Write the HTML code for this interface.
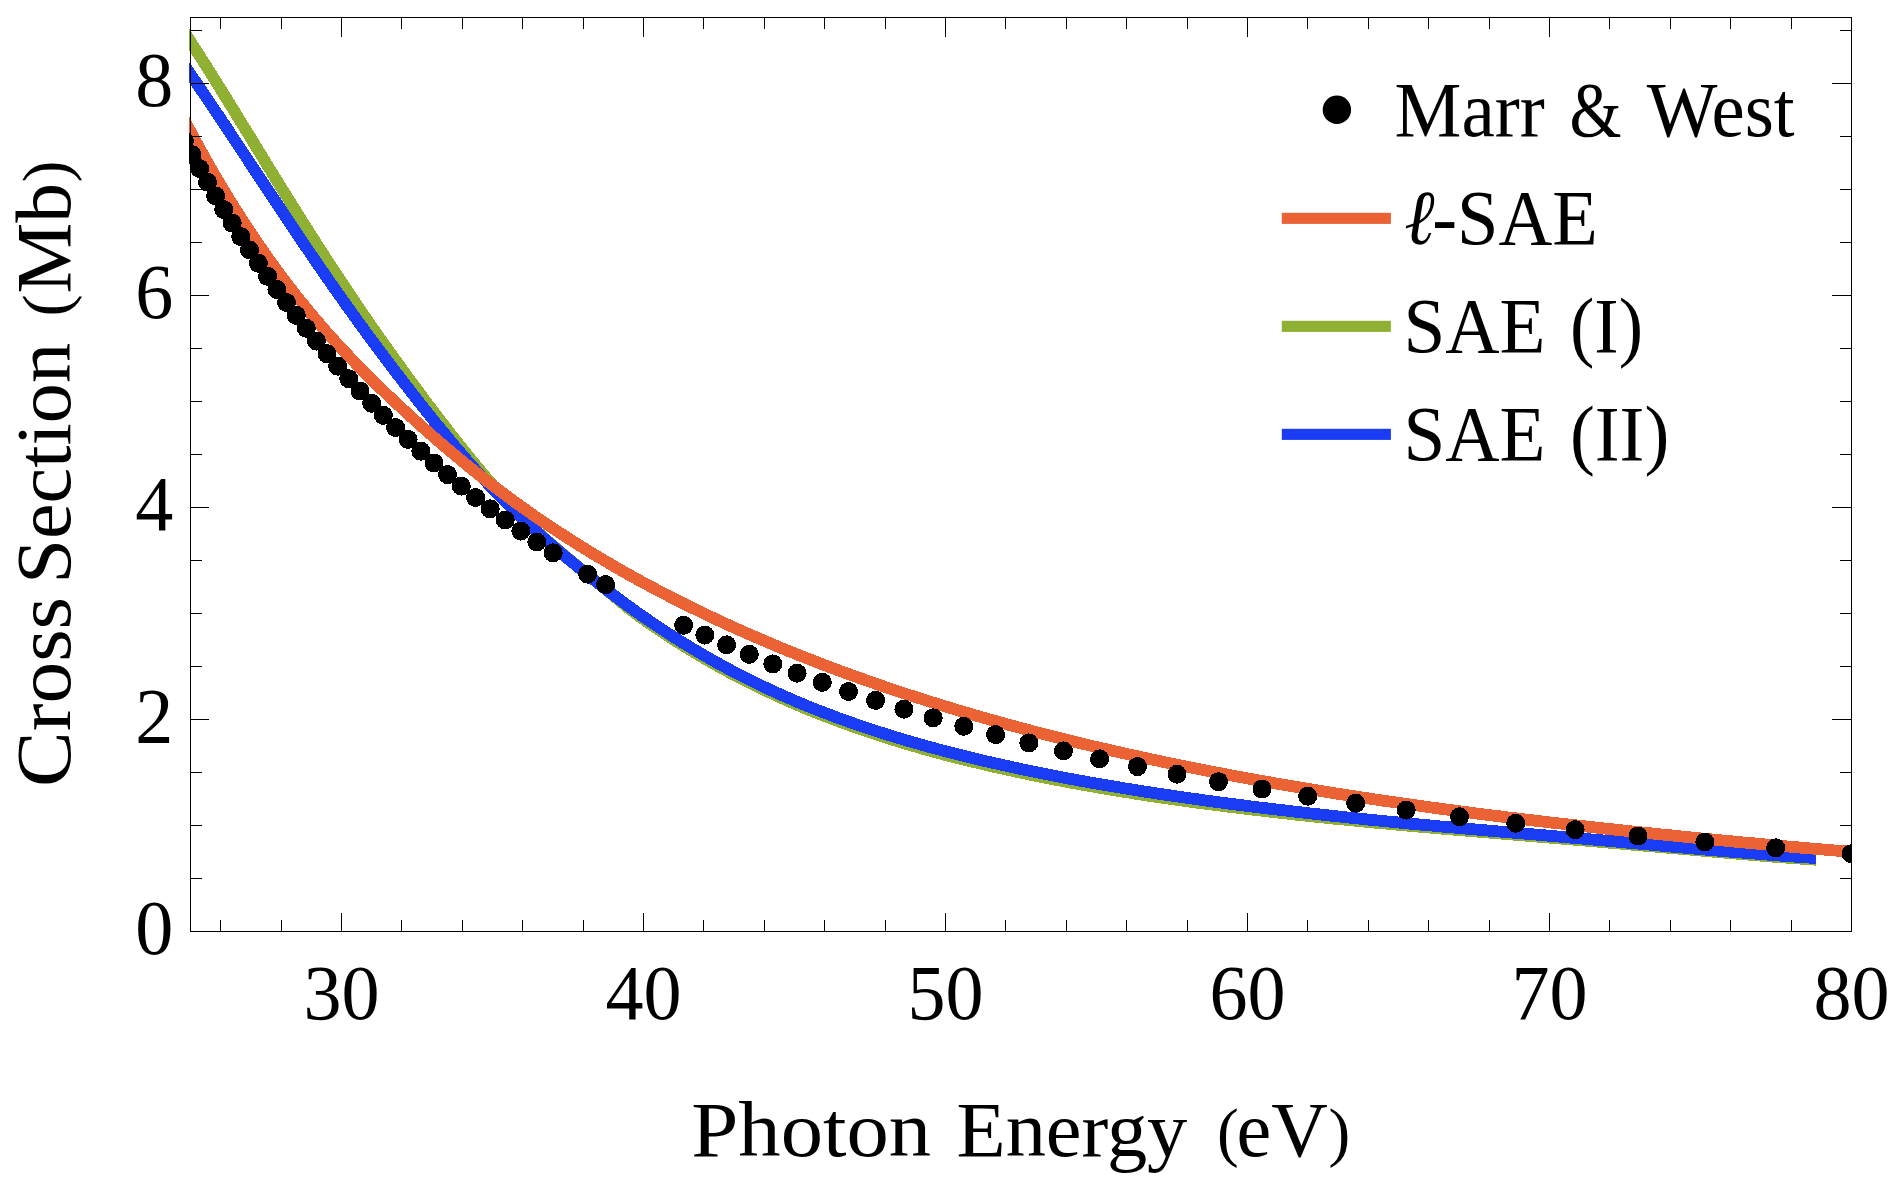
<!DOCTYPE html>
<html><head><meta charset="utf-8"><title>Cross Section</title>
<style>
html,body{margin:0;padding:0;background:#fff;}
svg{display:block;}
text{font-family:"Liberation Serif",serif;fill:#000;}
</style></head><body>
<svg width="1893" height="1181" viewBox="0 0 1893 1181">
<rect width="1893" height="1181" fill="#fff"/>
<defs><clipPath id="c"><rect x="189" y="17" width="1663" height="915"/></clipPath></defs>
<g clip-path="url(#c)" fill="none" stroke-width="11.8" stroke-linejoin="round" shape-rendering="crispEdges">
<path d="M181.4,27.5 L185.5,33.8 L189.6,40.1 L193.7,46.5 L197.8,52.9 L201.9,59.3 L206.0,65.8 L210.1,72.3 L214.2,78.8 L218.3,85.4 L222.4,92.0 L226.5,98.6 L230.6,105.2 L234.7,111.9 L238.8,118.6 L242.9,125.3 L247.0,131.9 L251.1,138.6 L255.2,145.3 L259.3,152.0 L263.4,158.7 L267.5,165.4 L271.6,172.1 L275.7,178.7 L279.8,185.3 L283.9,191.9 L288.0,198.5 L292.1,205.0 L296.1,211.6 L300.2,218.1 L304.3,224.6 L308.4,231.0 L312.5,237.4 L316.6,243.8 L320.7,250.2 L324.8,256.6 L328.9,262.9 L333.0,269.1 L337.1,275.4 L341.2,281.6 L345.3,287.7 L349.4,293.9 L353.5,300.0 L357.6,306.0 L361.7,312.0 L365.8,318.0 L369.9,323.9 L374.0,329.8 L378.1,335.7 L382.2,341.5 L386.3,347.3 L390.4,353.0 L394.5,358.7 L398.6,364.4 L402.7,370.0 L406.8,375.7 L410.9,381.2 L415.0,386.8 L419.0,392.3 L423.1,397.8 L427.2,403.3 L431.3,408.7 L435.4,414.1 L439.5,419.5 L443.6,424.8 L447.7,430.1 L451.8,435.4 L455.9,440.6 L460.0,445.7 L464.1,450.8 L468.2,455.9 L472.3,460.9 L476.4,465.9 L480.5,470.8 L484.6,475.7 L488.7,480.5 L492.8,485.2 L496.9,490.0 L501.0,494.7 L505.1,499.3 L509.2,503.8 L513.3,508.2 L517.4,512.5 L521.5,516.7 L525.6,520.7 L529.7,524.7 L533.8,528.6 L537.9,532.3 L541.9,536.0 L546.0,539.6 L550.1,543.1 L554.2,546.7 L558.3,550.2 L562.4,553.6 L566.5,557.1 L570.6,560.5 L574.7,563.9 L578.8,567.3 L582.9,570.7 L587.0,574.1 L591.1,577.4 L595.2,580.7 L599.3,584.1 L603.4,587.4 L607.5,590.8 L611.6,594.2 L615.7,597.6 L619.8,601.0 L623.9,604.4 L628.0,607.8 L632.1,611.0 L636.2,614.1 L640.3,617.1 L644.4,620.0 L648.5,622.9 L652.6,625.7 L656.7,628.5 L660.8,631.2 L664.8,633.9 L668.9,636.6 L673.0,639.3 L677.1,641.9 L681.2,644.5 L685.3,647.0 L689.4,649.5 L693.5,652.0 L697.6,654.4 L701.7,656.9 L705.8,659.3 L709.9,661.6 L714.0,663.9 L718.1,666.2 L722.2,668.5 L726.3,670.7 L730.4,672.9 L734.5,675.1 L738.6,677.2 L742.7,679.3 L746.8,681.4 L750.9,683.5 L755.0,685.5 L759.1,687.5 L763.2,689.5 L767.3,691.4 L771.4,693.3 L775.5,695.2 L779.6,697.1 L783.7,698.9 L787.7,700.8 L791.8,702.6 L795.9,704.3 L800.0,706.1 L804.1,707.8 L808.2,709.5 L812.3,711.1 L816.4,712.8 L820.5,714.4 L824.6,716.0 L828.7,717.6 L832.8,719.2 L836.9,720.7 L841.0,722.2 L845.1,723.7 L849.2,725.2 L853.3,726.7 L857.4,728.1 L861.5,729.5 L865.6,730.9 L869.7,732.3 L873.8,733.7 L877.9,735.0 L882.0,736.4 L886.1,737.7 L890.2,739.0 L894.3,740.3 L898.4,741.5 L902.5,742.8 L906.6,744.0 L910.6,745.2 L914.7,746.4 L918.8,747.6 L922.9,748.8 L927.0,749.9 L931.1,751.1 L935.2,752.2 L939.3,753.3 L943.4,754.4 L947.5,755.5 L951.6,756.5 L955.7,757.6 L959.8,758.6 L963.9,759.6 L968.0,760.6 L972.1,761.6 L976.2,762.6 L980.3,763.6 L984.4,764.6 L988.5,765.5 L992.6,766.5 L996.7,767.4 L1000.8,768.3 L1004.9,769.2 L1009.0,770.1 L1013.1,771.0 L1017.2,771.9 L1021.3,772.8 L1025.4,773.6 L1029.5,774.5 L1033.5,775.3 L1037.6,776.2 L1041.7,777.0 L1045.8,777.8 L1049.9,778.6 L1054.0,779.4 L1058.1,780.2 L1062.2,781.0 L1066.3,781.7 L1070.4,782.5 L1074.5,783.3 L1078.6,784.0 L1082.7,784.8 L1086.8,785.5 L1090.9,786.2 L1095.0,786.9 L1099.1,787.7 L1103.2,788.4 L1107.3,789.1 L1111.4,789.8 L1115.5,790.4 L1119.6,791.1 L1123.7,791.8 L1127.8,792.4 L1131.9,793.1 L1136.0,793.8 L1140.1,794.4 L1144.2,795.0 L1148.3,795.7 L1152.4,796.3 L1156.4,796.9 L1160.5,797.5 L1164.6,798.1 L1168.7,798.7 L1172.8,799.3 L1176.9,799.8 L1181.0,800.4 L1185.1,801.0 L1189.2,801.6 L1193.3,802.1 L1197.4,802.7 L1201.5,803.2 L1205.6,803.7 L1209.7,804.3 L1213.8,804.8 L1217.9,805.3 L1222.0,805.9 L1226.1,806.4 L1230.2,806.9 L1234.3,807.4 L1238.4,807.9 L1242.5,808.4 L1246.6,808.9 L1250.7,809.4 L1254.8,809.9 L1258.9,810.4 L1263.0,810.8 L1267.1,811.3 L1271.2,811.8 L1275.3,812.3 L1279.4,812.7 L1283.4,813.2 L1287.5,813.6 L1291.6,814.1 L1295.7,814.6 L1299.8,815.0 L1303.9,815.4 L1308.0,815.9 L1312.1,816.3 L1316.2,816.8 L1320.3,817.2 L1324.4,817.6 L1328.5,818.0 L1332.6,818.5 L1336.7,818.9 L1340.8,819.3 L1344.9,819.7 L1349.0,820.1 L1353.1,820.5 L1357.2,820.9 L1361.3,821.3 L1365.4,821.7 L1369.5,822.1 L1373.6,822.5 L1377.7,822.9 L1381.8,823.3 L1385.9,823.6 L1390.0,824.0 L1394.1,824.4 L1398.2,824.8 L1402.3,825.1 L1406.3,825.5 L1410.4,825.9 L1414.5,826.2 L1418.6,826.6 L1422.7,827.0 L1426.8,827.3 L1430.9,827.7 L1435.0,828.1 L1439.1,828.4 L1443.2,828.8 L1447.3,829.1 L1451.4,829.5 L1455.5,829.8 L1459.6,830.2 L1463.7,830.5 L1467.8,830.8 L1471.9,831.2 L1476.0,831.5 L1480.1,831.9 L1484.2,832.2 L1488.3,832.5 L1492.4,832.9 L1496.5,833.2 L1500.6,833.6 L1504.7,833.9 L1508.8,834.2 L1512.9,834.6 L1517.0,834.9 L1521.1,835.3 L1525.2,835.6 L1529.2,835.9 L1533.3,836.3 L1537.4,836.6 L1541.5,836.9 L1545.6,837.3 L1549.7,837.6 L1553.8,838.0 L1557.9,838.3 L1562.0,838.7 L1566.1,839.0 L1570.2,839.3 L1574.3,839.7 L1578.4,840.0 L1582.5,840.4 L1586.6,840.7 L1590.7,841.1 L1594.8,841.4 L1598.9,841.8 L1603.0,842.1 L1607.1,842.5 L1611.2,842.8 L1615.3,843.2 L1619.4,843.5 L1623.5,843.9 L1627.6,844.3 L1631.7,844.6 L1635.8,845.0 L1639.9,845.3 L1644.0,845.7 L1648.1,846.0 L1652.1,846.4 L1656.2,846.7 L1660.3,847.1 L1664.4,847.4 L1668.5,847.8 L1672.6,848.1 L1676.7,848.5 L1680.8,848.8 L1684.9,849.2 L1689.0,849.5 L1693.1,849.9 L1697.2,850.3 L1701.3,850.6 L1705.4,851.0 L1709.5,851.3 L1713.6,851.7 L1717.7,852.0 L1721.8,852.4 L1725.9,852.7 L1730.0,853.1 L1734.1,853.4 L1738.2,853.8 L1742.3,854.1 L1746.4,854.5 L1750.5,854.8 L1754.6,855.1 L1758.7,855.5 L1762.8,855.8 L1766.9,856.1 L1771.0,856.5 L1775.0,856.8 L1779.1,857.1 L1783.2,857.4 L1787.3,857.7 L1791.4,858.0 L1795.5,858.3 L1799.6,858.6 L1803.7,858.9 L1807.8,859.2 L1811.9,859.5 L1816.0,859.7" stroke="#8fb032"/>
<path d="M181.4,61.2 L185.5,67.1 L189.6,73.0 L193.7,79.0 L197.8,84.9 L201.9,91.0 L206.0,97.0 L210.1,103.1 L214.2,109.2 L218.3,115.3 L222.4,121.5 L226.5,127.6 L230.6,133.8 L234.7,140.0 L238.8,146.2 L242.9,152.4 L247.0,158.6 L251.1,164.8 L255.2,171.0 L259.3,177.2 L263.4,183.4 L267.5,189.5 L271.6,195.7 L275.7,201.9 L279.8,208.0 L283.9,214.2 L288.0,220.3 L292.1,226.4 L296.1,232.5 L300.2,238.6 L304.3,244.6 L308.4,250.6 L312.5,256.6 L316.6,262.6 L320.7,268.6 L324.8,274.5 L328.9,280.4 L333.0,286.2 L337.1,292.1 L341.2,297.9 L345.3,303.7 L349.4,309.4 L353.5,315.1 L357.6,320.8 L361.7,326.5 L365.8,332.1 L369.9,337.6 L374.0,343.2 L378.1,348.7 L382.2,354.2 L386.3,359.6 L390.4,365.0 L394.5,370.4 L398.6,375.8 L402.7,381.1 L406.8,386.4 L410.9,391.6 L415.0,396.9 L419.0,402.1 L423.1,407.2 L427.2,412.4 L431.3,417.5 L435.4,422.6 L439.5,427.6 L443.6,432.6 L447.7,437.6 L451.8,442.5 L455.9,447.4 L460.0,452.2 L464.1,457.0 L468.2,461.7 L472.3,466.4 L476.4,471.0 L480.5,475.6 L484.6,480.1 L488.7,484.5 L492.8,488.9 L496.9,493.3 L501.0,497.5 L505.1,501.7 L509.2,505.8 L513.3,509.9 L517.4,513.9 L521.5,517.8 L525.6,521.6 L529.7,525.4 L533.8,529.2 L537.9,532.8 L541.9,536.5 L546.0,540.1 L550.1,543.6 L554.2,547.1 L558.3,550.6 L562.4,554.1 L566.5,557.5 L570.6,560.9 L574.7,564.3 L578.8,567.7 L582.9,571.0 L587.0,574.3 L591.1,577.6 L595.2,580.9 L599.3,584.1 L603.4,587.3 L607.5,590.5 L611.6,593.6 L615.7,596.7 L619.8,599.8 L623.9,602.8 L628.0,605.8 L632.1,608.7 L636.2,611.7 L640.3,614.6 L644.4,617.4 L648.5,620.3 L652.6,623.0 L656.7,625.8 L660.8,628.5 L664.8,631.2 L668.9,633.9 L673.0,636.5 L677.1,639.1 L681.2,641.7 L685.3,644.2 L689.4,646.7 L693.5,649.2 L697.6,651.6 L701.7,654.0 L705.8,656.4 L709.9,658.7 L714.0,661.1 L718.1,663.3 L722.2,665.6 L726.3,667.8 L730.4,670.0 L734.5,672.2 L738.6,674.3 L742.7,676.4 L746.8,678.5 L750.9,680.5 L755.0,682.5 L759.1,684.5 L763.2,686.5 L767.3,688.4 L771.4,690.4 L775.5,692.2 L779.6,694.1 L783.7,695.9 L787.7,697.7 L791.8,699.5 L795.9,701.3 L800.0,703.0 L804.1,704.7 L808.2,706.4 L812.3,708.0 L816.4,709.7 L820.5,711.3 L824.6,712.8 L828.7,714.4 L832.8,715.9 L836.9,717.5 L841.0,719.0 L845.1,720.4 L849.2,721.9 L853.3,723.3 L857.4,724.8 L861.5,726.2 L865.6,727.5 L869.7,728.9 L873.8,730.3 L877.9,731.6 L882.0,732.9 L886.1,734.2 L890.2,735.5 L894.3,736.7 L898.4,738.0 L902.5,739.2 L906.6,740.4 L910.6,741.6 L914.7,742.8 L918.8,744.0 L922.9,745.1 L927.0,746.3 L931.1,747.4 L935.2,748.5 L939.3,749.6 L943.4,750.7 L947.5,751.7 L951.6,752.8 L955.7,753.9 L959.8,754.9 L963.9,755.9 L968.0,756.9 L972.1,757.9 L976.2,758.9 L980.3,759.9 L984.4,760.9 L988.5,761.8 L992.6,762.8 L996.7,763.7 L1000.8,764.6 L1004.9,765.5 L1009.0,766.4 L1013.1,767.3 L1017.2,768.2 L1021.3,769.1 L1025.4,769.9 L1029.5,770.8 L1033.5,771.6 L1037.6,772.5 L1041.7,773.3 L1045.8,774.1 L1049.9,774.9 L1054.0,775.7 L1058.1,776.5 L1062.2,777.3 L1066.3,778.1 L1070.4,778.9 L1074.5,779.6 L1078.6,780.4 L1082.7,781.1 L1086.8,781.9 L1090.9,782.6 L1095.0,783.3 L1099.1,784.0 L1103.2,784.7 L1107.3,785.4 L1111.4,786.1 L1115.5,786.8 L1119.6,787.5 L1123.7,788.2 L1127.8,788.9 L1131.9,789.5 L1136.0,790.2 L1140.1,790.8 L1144.2,791.5 L1148.3,792.1 L1152.4,792.7 L1156.4,793.4 L1160.5,794.0 L1164.6,794.6 L1168.7,795.2 L1172.8,795.8 L1176.9,796.4 L1181.0,797.0 L1185.1,797.6 L1189.2,798.2 L1193.3,798.8 L1197.4,799.3 L1201.5,799.9 L1205.6,800.5 L1209.7,801.0 L1213.8,801.6 L1217.9,802.1 L1222.0,802.7 L1226.1,803.2 L1230.2,803.8 L1234.3,804.3 L1238.4,804.8 L1242.5,805.3 L1246.6,805.9 L1250.7,806.4 L1254.8,806.9 L1258.9,807.4 L1263.0,807.9 L1267.1,808.4 L1271.2,808.9 L1275.3,809.4 L1279.4,809.9 L1283.4,810.3 L1287.5,810.8 L1291.6,811.3 L1295.7,811.8 L1299.8,812.2 L1303.9,812.7 L1308.0,813.2 L1312.1,813.6 L1316.2,814.1 L1320.3,814.5 L1324.4,815.0 L1328.5,815.4 L1332.6,815.8 L1336.7,816.3 L1340.8,816.7 L1344.9,817.2 L1349.0,817.6 L1353.1,818.0 L1357.2,818.4 L1361.3,818.8 L1365.4,819.3 L1369.5,819.7 L1373.6,820.1 L1377.7,820.5 L1381.8,820.9 L1385.9,821.3 L1390.0,821.7 L1394.1,822.1 L1398.2,822.5 L1402.3,822.9 L1406.3,823.3 L1410.4,823.7 L1414.5,824.0 L1418.6,824.4 L1422.7,824.8 L1426.8,825.2 L1430.9,825.5 L1435.0,825.9 L1439.1,826.3 L1443.2,826.7 L1447.3,827.0 L1451.4,827.4 L1455.5,827.7 L1459.6,828.1 L1463.7,828.5 L1467.8,828.8 L1471.9,829.2 L1476.0,829.5 L1480.1,829.9 L1484.2,830.2 L1488.3,830.6 L1492.4,830.9 L1496.5,831.3 L1500.6,831.6 L1504.7,832.0 L1508.8,832.3 L1512.9,832.7 L1517.0,833.0 L1521.1,833.4 L1525.2,833.7 L1529.2,834.1 L1533.3,834.4 L1537.4,834.7 L1541.5,835.1 L1545.6,835.4 L1549.7,835.8 L1553.8,836.2 L1557.9,836.5 L1562.0,836.9 L1566.1,837.2 L1570.2,837.6 L1574.3,837.9 L1578.4,838.3 L1582.5,838.6 L1586.6,839.0 L1590.7,839.4 L1594.8,839.7 L1598.9,840.1 L1603.0,840.4 L1607.1,840.8 L1611.2,841.2 L1615.3,841.5 L1619.4,841.9 L1623.5,842.3 L1627.6,842.7 L1631.7,843.0 L1635.8,843.4 L1639.9,843.8 L1644.0,844.1 L1648.1,844.5 L1652.1,844.9 L1656.2,845.2 L1660.3,845.6 L1664.4,846.0 L1668.5,846.4 L1672.6,846.7 L1676.7,847.1 L1680.8,847.4 L1684.9,847.8 L1689.0,848.2 L1693.1,848.5 L1697.2,848.9 L1701.3,849.2 L1705.4,849.6 L1709.5,849.9 L1713.6,850.3 L1717.7,850.6 L1721.8,851.0 L1725.9,851.3 L1730.0,851.7 L1734.1,852.0 L1738.2,852.3 L1742.3,852.6 L1746.4,853.0 L1750.5,853.3 L1754.6,853.6 L1758.7,853.9 L1762.8,854.3 L1766.9,854.6 L1771.0,854.9 L1775.0,855.2 L1779.1,855.5 L1783.2,855.8 L1787.3,856.1 L1791.4,856.4 L1795.5,856.7 L1799.6,856.9 L1803.7,857.2 L1807.8,857.5 L1811.9,857.8 L1816.0,858.0" stroke="#1a3cf5"/>
<path d="M181.4,114.5 L185.6,122.5 L189.9,130.5 L194.1,138.3 L198.3,146.0 L202.5,153.6 L206.7,161.1 L210.9,168.4 L215.1,175.7 L219.3,182.8 L223.5,189.9 L227.7,196.8 L231.9,203.6 L236.1,210.3 L240.4,217.0 L244.6,223.5 L248.8,229.9 L253.0,236.2 L257.2,242.4 L261.4,248.5 L265.6,254.5 L269.8,260.5 L274.0,266.3 L278.2,272.0 L282.4,277.7 L286.6,283.3 L290.9,288.8 L295.1,294.2 L299.3,299.5 L303.5,304.7 L307.7,309.8 L311.9,314.9 L316.1,319.9 L320.3,324.8 L324.5,329.6 L328.7,334.4 L332.9,339.1 L337.1,343.7 L341.4,348.3 L345.6,352.8 L349.8,357.2 L354.0,361.6 L358.2,366.0 L362.4,370.3 L366.6,374.5 L370.8,378.7 L375.0,382.8 L379.2,387.0 L383.4,391.0 L387.6,395.1 L391.9,399.0 L396.1,403.0 L400.3,406.9 L404.5,410.8 L408.7,414.7 L412.9,418.5 L417.1,422.3 L421.3,426.1 L425.5,429.8 L429.7,433.5 L433.9,437.2 L438.1,440.9 L442.4,444.5 L446.6,448.1 L450.8,451.7 L455.0,455.2 L459.2,458.7 L463.4,462.2 L467.6,465.6 L471.8,469.0 L476.0,472.4 L480.2,475.7 L484.4,479.0 L488.6,482.3 L492.9,485.5 L497.1,488.7 L501.3,491.9 L505.5,495.0 L509.7,498.1 L513.9,501.2 L518.1,504.3 L522.3,507.3 L526.5,510.3 L530.7,513.2 L534.9,516.2 L539.1,519.0 L543.4,521.9 L547.6,524.8 L551.8,527.6 L556.0,530.4 L560.2,533.1 L564.4,535.8 L568.6,538.5 L572.8,541.2 L577.0,543.9 L581.2,546.5 L585.4,549.1 L589.6,551.7 L593.9,554.3 L598.1,556.8 L602.3,559.3 L606.5,561.8 L610.7,564.2 L614.9,566.7 L619.1,569.1 L623.3,571.5 L627.5,573.9 L631.7,576.2 L635.9,578.6 L640.1,580.9 L644.4,583.2 L648.6,585.4 L652.8,587.7 L657.0,589.9 L661.2,592.1 L665.4,594.3 L669.6,596.5 L673.8,598.6 L678.0,600.8 L682.2,602.9 L686.4,605.0 L690.6,607.1 L694.9,609.1 L699.1,611.2 L703.3,613.2 L707.5,615.2 L711.7,617.2 L715.9,619.2 L720.1,621.2 L724.3,623.1 L728.5,625.0 L732.7,627.0 L736.9,628.8 L741.1,630.7 L745.4,632.6 L749.6,634.5 L753.8,636.3 L758.0,638.1 L762.2,639.9 L766.4,641.7 L770.6,643.5 L774.8,645.3 L779.0,647.0 L783.2,648.8 L787.4,650.5 L791.6,652.2 L795.9,653.9 L800.1,655.6 L804.3,657.2 L808.5,658.9 L812.7,660.5 L816.9,662.2 L821.1,663.8 L825.3,665.4 L829.5,667.0 L833.7,668.6 L837.9,670.1 L842.1,671.7 L846.4,673.3 L850.6,674.8 L854.8,676.3 L859.0,677.8 L863.2,679.3 L867.4,680.8 L871.6,682.3 L875.8,683.7 L880.0,685.2 L884.2,686.6 L888.4,688.1 L892.6,689.5 L896.9,690.9 L901.1,692.3 L905.3,693.7 L909.5,695.1 L913.7,696.4 L917.9,697.8 L922.1,699.1 L926.3,700.5 L930.5,701.8 L934.7,703.1 L938.9,704.4 L943.1,705.7 L947.4,707.0 L951.6,708.3 L955.8,709.6 L960.0,710.8 L964.2,712.1 L968.4,713.3 L972.6,714.5 L976.8,715.8 L981.0,717.0 L985.2,718.2 L989.4,719.4 L993.6,720.6 L997.9,721.7 L1002.1,722.9 L1006.3,724.1 L1010.5,725.2 L1014.7,726.4 L1018.9,727.5 L1023.1,728.6 L1027.3,729.7 L1031.5,730.9 L1035.7,732.0 L1039.9,733.1 L1044.1,734.1 L1048.4,735.2 L1052.6,736.3 L1056.8,737.4 L1061.0,738.4 L1065.2,739.5 L1069.4,740.5 L1073.6,741.5 L1077.8,742.6 L1082.0,743.6 L1086.2,744.6 L1090.4,745.6 L1094.6,746.6 L1098.9,747.6 L1103.1,748.5 L1107.3,749.5 L1111.5,750.5 L1115.7,751.4 L1119.9,752.4 L1124.1,753.3 L1128.3,754.3 L1132.5,755.2 L1136.7,756.1 L1140.9,757.1 L1145.1,758.0 L1149.4,758.9 L1153.6,759.8 L1157.8,760.7 L1162.0,761.6 L1166.2,762.5 L1170.4,763.3 L1174.6,764.2 L1178.8,765.1 L1183.0,765.9 L1187.2,766.8 L1191.4,767.6 L1195.6,768.5 L1199.9,769.3 L1204.1,770.1 L1208.3,770.9 L1212.5,771.8 L1216.7,772.6 L1220.9,773.4 L1225.1,774.2 L1229.3,775.0 L1233.5,775.8 L1237.7,776.6 L1241.9,777.3 L1246.1,778.1 L1250.4,778.9 L1254.6,779.6 L1258.8,780.4 L1263.0,781.1 L1267.2,781.9 L1271.4,782.6 L1275.6,783.4 L1279.8,784.1 L1284.0,784.8 L1288.2,785.6 L1292.4,786.3 L1296.6,787.0 L1300.9,787.7 L1305.1,788.4 L1309.3,789.1 L1313.5,789.8 L1317.7,790.5 L1321.9,791.2 L1326.1,791.8 L1330.3,792.5 L1334.5,793.2 L1338.7,793.9 L1342.9,794.5 L1347.1,795.2 L1351.4,795.8 L1355.6,796.5 L1359.8,797.1 L1364.0,797.8 L1368.2,798.4 L1372.4,799.0 L1376.6,799.7 L1380.8,800.3 L1385.0,800.9 L1389.2,801.5 L1393.4,802.1 L1397.6,802.7 L1401.9,803.3 L1406.1,804.0 L1410.3,804.5 L1414.5,805.1 L1418.7,805.7 L1422.9,806.3 L1427.1,806.9 L1431.3,807.5 L1435.5,808.0 L1439.7,808.6 L1443.9,809.2 L1448.1,809.7 L1452.4,810.3 L1456.6,810.9 L1460.8,811.4 L1465.0,812.0 L1469.2,812.5 L1473.4,813.1 L1477.6,813.6 L1481.8,814.1 L1486.0,814.7 L1490.2,815.2 L1494.4,815.7 L1498.6,816.2 L1502.9,816.8 L1507.1,817.3 L1511.3,817.8 L1515.5,818.3 L1519.7,818.8 L1523.9,819.3 L1528.1,819.8 L1532.3,820.3 L1536.5,820.8 L1540.7,821.3 L1544.9,821.8 L1549.1,822.3 L1553.4,822.8 L1557.6,823.3 L1561.8,823.7 L1566.0,824.2 L1570.2,824.7 L1574.4,825.2 L1578.6,825.6 L1582.8,826.1 L1587.0,826.6 L1591.2,827.0 L1595.4,827.5 L1599.6,828.0 L1603.9,828.4 L1608.1,828.9 L1612.3,829.3 L1616.5,829.8 L1620.7,830.2 L1624.9,830.7 L1629.1,831.1 L1633.3,831.6 L1637.5,832.0 L1641.7,832.4 L1645.9,832.9 L1650.1,833.3 L1654.4,833.7 L1658.6,834.2 L1662.8,834.6 L1667.0,835.0 L1671.2,835.4 L1675.4,835.9 L1679.6,836.3 L1683.8,836.7 L1688.0,837.1 L1692.2,837.5 L1696.4,837.9 L1700.6,838.4 L1704.9,838.8 L1709.1,839.2 L1713.3,839.6 L1717.5,840.0 L1721.7,840.4 L1725.9,840.8 L1730.1,841.2 L1734.3,841.6 L1738.5,842.0 L1742.7,842.4 L1746.9,842.8 L1751.1,843.1 L1755.4,843.5 L1759.6,843.9 L1763.8,844.3 L1768.0,844.7 L1772.2,845.1 L1776.4,845.4 L1780.6,845.8 L1784.8,846.2 L1789.0,846.6 L1793.2,846.9 L1797.4,847.3 L1801.6,847.7 L1805.9,848.0 L1810.1,848.4 L1814.3,848.7 L1818.5,849.1 L1822.7,849.5 L1826.9,849.8 L1831.1,850.2 L1835.3,850.5 L1839.5,850.9 L1843.7,851.2 L1847.9,851.5 L1852.1,851.9 L1856.4,852.2 L1860.6,852.6" stroke="#eb6235"/>
<g fill="#000" stroke="none">
<circle cx="1851.2" cy="853.7" r="9.5"/>
<circle cx="1775.7" cy="847.9" r="9.5"/>
<circle cx="1704.8" cy="842.0" r="9.5"/>
<circle cx="1638.0" cy="836.0" r="9.5"/>
<circle cx="1575.1" cy="829.7" r="9.5"/>
<circle cx="1515.7" cy="823.3" r="9.5"/>
<circle cx="1459.5" cy="816.8" r="9.5"/>
<circle cx="1406.2" cy="810.1" r="9.5"/>
<circle cx="1355.7" cy="803.2" r="9.5"/>
<circle cx="1307.7" cy="796.2" r="9.5"/>
<circle cx="1262.0" cy="789.0" r="9.5"/>
<circle cx="1218.5" cy="781.7" r="9.5"/>
<circle cx="1177.0" cy="774.2" r="9.5"/>
<circle cx="1137.5" cy="766.6" r="9.5"/>
<circle cx="1099.6" cy="758.8" r="9.5"/>
<circle cx="1063.5" cy="750.9" r="9.5"/>
<circle cx="1028.8" cy="742.9" r="9.5"/>
<circle cx="995.6" cy="734.6" r="9.5"/>
<circle cx="963.8" cy="726.3" r="9.5"/>
<circle cx="933.2" cy="717.8" r="9.5"/>
<circle cx="903.9" cy="709.2" r="9.5"/>
<circle cx="875.6" cy="700.4" r="9.5"/>
<circle cx="848.5" cy="691.5" r="9.5"/>
<circle cx="822.3" cy="682.4" r="9.5"/>
<circle cx="797.1" cy="673.2" r="9.5"/>
<circle cx="772.8" cy="663.9" r="9.5"/>
<circle cx="749.3" cy="654.4" r="9.5"/>
<circle cx="726.6" cy="644.8" r="9.5"/>
<circle cx="704.8" cy="635.1" r="9.5"/>
<circle cx="683.6" cy="625.3" r="9.5"/>
<circle cx="605.6" cy="584.6" r="9.5"/>
<circle cx="587.6" cy="574.2" r="9.5"/>
<circle cx="553.2" cy="552.8" r="9.5"/>
<circle cx="536.8" cy="542.0" r="9.5"/>
<circle cx="520.8" cy="531.1" r="9.5"/>
<circle cx="505.3" cy="520.0" r="9.5"/>
<circle cx="490.2" cy="508.8" r="9.5"/>
<circle cx="475.6" cy="497.5" r="9.5"/>
<circle cx="461.3" cy="486.1" r="9.5"/>
<circle cx="447.5" cy="474.6" r="9.5"/>
<circle cx="434.0" cy="463.0" r="9.5"/>
<circle cx="420.8" cy="451.2" r="9.5"/>
<circle cx="408.1" cy="439.4" r="9.5"/>
<circle cx="395.6" cy="427.5" r="9.5"/>
<circle cx="383.4" cy="415.4" r="9.5"/>
<circle cx="371.6" cy="403.3" r="9.5"/>
<circle cx="360.0" cy="391.0" r="9.5"/>
<circle cx="348.7" cy="378.7" r="9.5"/>
<circle cx="337.7" cy="366.2" r="9.5"/>
<circle cx="327.0" cy="353.7" r="9.5"/>
<circle cx="316.5" cy="341.0" r="9.5"/>
<circle cx="306.3" cy="328.3" r="9.5"/>
<circle cx="296.3" cy="315.4" r="9.5"/>
<circle cx="286.5" cy="302.5" r="9.5"/>
<circle cx="276.9" cy="289.5" r="9.5"/>
<circle cx="267.6" cy="276.4" r="9.5"/>
<circle cx="258.4" cy="263.2" r="9.5"/>
<circle cx="249.5" cy="249.9" r="9.5"/>
<circle cx="240.7" cy="236.5" r="9.5"/>
<circle cx="232.2" cy="223.1" r="9.5"/>
<circle cx="223.8" cy="209.6" r="9.5"/>
<circle cx="215.6" cy="195.9" r="9.5"/>
<circle cx="207.5" cy="182.2" r="9.5"/>
<circle cx="199.6" cy="168.5" r="9.5"/>
<circle cx="191.9" cy="154.6" r="9.5"/>
<circle cx="184.4" cy="140.7" r="9.5"/>
</g></g>
<path d="M190.5,17.5 H1851.5 V931.5 H190.5 Z M220.5,931.0 v-11.0 M220.5,18.0 v11.0 M281.5,931.0 v-11.0 M281.5,18.0 v11.0 M341.5,931.0 v-18.0 M341.5,18.0 v19.0 M401.5,931.0 v-11.0 M401.5,18.0 v11.0 M462.5,931.0 v-11.0 M462.5,18.0 v11.0 M522.5,931.0 v-11.0 M522.5,18.0 v11.0 M583.5,931.0 v-11.0 M583.5,18.0 v11.0 M643.5,931.0 v-18.0 M643.5,18.0 v19.0 M703.5,931.0 v-11.0 M703.5,18.0 v11.0 M764.5,931.0 v-11.0 M764.5,18.0 v11.0 M824.5,931.0 v-11.0 M824.5,18.0 v11.0 M885.5,931.0 v-11.0 M885.5,18.0 v11.0 M945.5,931.0 v-18.0 M945.5,18.0 v19.0 M1005.5,931.0 v-11.0 M1005.5,18.0 v11.0 M1066.5,931.0 v-11.0 M1066.5,18.0 v11.0 M1126.5,931.0 v-11.0 M1126.5,18.0 v11.0 M1187.5,931.0 v-11.0 M1187.5,18.0 v11.0 M1247.5,931.0 v-18.0 M1247.5,18.0 v19.0 M1307.5,931.0 v-11.0 M1307.5,18.0 v11.0 M1368.5,931.0 v-11.0 M1368.5,18.0 v11.0 M1428.5,931.0 v-11.0 M1428.5,18.0 v11.0 M1489.5,931.0 v-11.0 M1489.5,18.0 v11.0 M1549.5,931.0 v-18.0 M1549.5,18.0 v19.0 M1609.5,931.0 v-11.0 M1609.5,18.0 v11.0 M1670.5,931.0 v-11.0 M1670.5,18.0 v11.0 M1730.5,931.0 v-11.0 M1730.5,18.0 v11.0 M1791.5,931.0 v-11.0 M1791.5,18.0 v11.0 M191.0,878.5 h11.0 M1851.0,878.5 h-11.0 M191.0,825.5 h11.0 M1851.0,825.5 h-11.0 M191.0,772.5 h11.0 M1851.0,772.5 h-11.0 M191.0,719.5 h18.0 M1851.0,719.5 h-19.0 M191.0,666.5 h11.0 M1851.0,666.5 h-11.0 M191.0,613.5 h11.0 M1851.0,613.5 h-11.0 M191.0,560.5 h11.0 M1851.0,560.5 h-11.0 M191.0,507.5 h18.0 M1851.0,507.5 h-19.0 M191.0,454.5 h11.0 M1851.0,454.5 h-11.0 M191.0,401.5 h11.0 M1851.0,401.5 h-11.0 M191.0,348.5 h11.0 M1851.0,348.5 h-11.0 M191.0,295.5 h18.0 M1851.0,295.5 h-19.0 M191.0,242.5 h11.0 M1851.0,242.5 h-11.0 M191.0,189.5 h11.0 M1851.0,189.5 h-11.0 M191.0,136.5 h11.0 M1851.0,136.5 h-11.0 M191.0,83.5 h18.0 M1851.0,83.5 h-19.0 M191.0,30.5 h11.0 M1851.0,30.5 h-11.0" fill="none" stroke="#000" stroke-width="1" shape-rendering="crispEdges"/>
<g font-size="79.1">
<text transform="translate(173.4,953.7) scale(0.9625,1)" text-anchor="end">0</text>
<text transform="translate(173.4,741.7) scale(0.9625,1)" text-anchor="end">2</text>
<text transform="translate(173.4,529.7) scale(0.9625,1)" text-anchor="end">4</text>
<text transform="translate(173.4,317.7) scale(0.9625,1)" text-anchor="end">6</text>
<text transform="translate(173.4,105.7) scale(0.9625,1)" text-anchor="end">8</text>
<text transform="translate(341.5,1019.3) scale(0.9625,1)" text-anchor="middle">30</text>
<text transform="translate(643.5,1019.3) scale(0.9625,1)" text-anchor="middle">40</text>
<text transform="translate(945.5,1019.3) scale(0.9625,1)" text-anchor="middle">50</text>
<text transform="translate(1247.5,1019.3) scale(0.9625,1)" text-anchor="middle">60</text>
<text transform="translate(1549.5,1019.3) scale(0.9625,1)" text-anchor="middle">70</text>
<text transform="translate(1851.5,1019.3) scale(0.9625,1)" text-anchor="middle">80</text>
</g>
<text font-size="78.6" transform="translate(691.3,1155.6) scale(1.077,1)">Photon</text>
<text font-size="78.6" transform="translate(956.5,1155.6) scale(1.0237,1)">Energy</text>
<text font-size="65.3" transform="translate(1217.0,1153.9) scale(1,1)">(</text>
<text font-size="78.6" transform="translate(1236.4,1155.6) scale(0.996,1)">eV</text>
<text font-size="65.3" transform="translate(1328.5,1153.9) scale(1,1)">)</text>
<text font-size="78.8" transform="translate(70.2,786.9) rotate(-90) scale(1.058,1)">Cross</text>
<text font-size="78.8" transform="translate(70.2,583.7) rotate(-90) scale(1.019,1)">Section</text>
<text font-size="66.2" transform="translate(68.4,316.6) rotate(-90) scale(1,1)">(</text>
<text font-size="78.8" transform="translate(70.2,293.4) rotate(-90) scale(1.009,1)">Mb</text>
<text font-size="66.2" transform="translate(68.4,182.6) rotate(-90) scale(1,1)">)</text>
<circle cx="1336.9" cy="109.8" r="14.2"/>
<text font-size="77.7" transform="translate(1394.6,136.0) scale(0.967,1)">Marr</text>
<text font-size="77.7" transform="translate(1569.4,136.0) scale(0.86,1)">&amp;</text>
<text font-size="77.7" transform="translate(1646.8,136.0) scale(0.963,1)">West</text>
<text font-size="77.7" transform="translate(1404.3,243.6) scale(0.937,1)"><tspan font-style="italic">ℓ</tspan></text>
<text font-size="77.7" transform="translate(1432.3,243.6) scale(0.959,1)">-SAE</text>
<text font-size="77.7" transform="translate(1403.4,351.9) scale(0.968,1)">SAE</text>
<text font-size="77.7" transform="translate(1570.0,351.9) scale(0.9405,1)">(I)</text>
<text font-size="77.7" transform="translate(1403.4,459.9) scale(0.968,1)">SAE</text>
<text font-size="77.7" transform="translate(1569.9,459.9) scale(0.96,1)">(II)</text>
<rect x="1281.8" y="212.8" width="109.1" height="11.1" fill="#eb6235"/>
<rect x="1281.8" y="320.8" width="109.1" height="11.1" fill="#8fb032"/>
<rect x="1281.8" y="428.8" width="109.1" height="11.1" fill="#1a3cf5"/>
</svg></body></html>
